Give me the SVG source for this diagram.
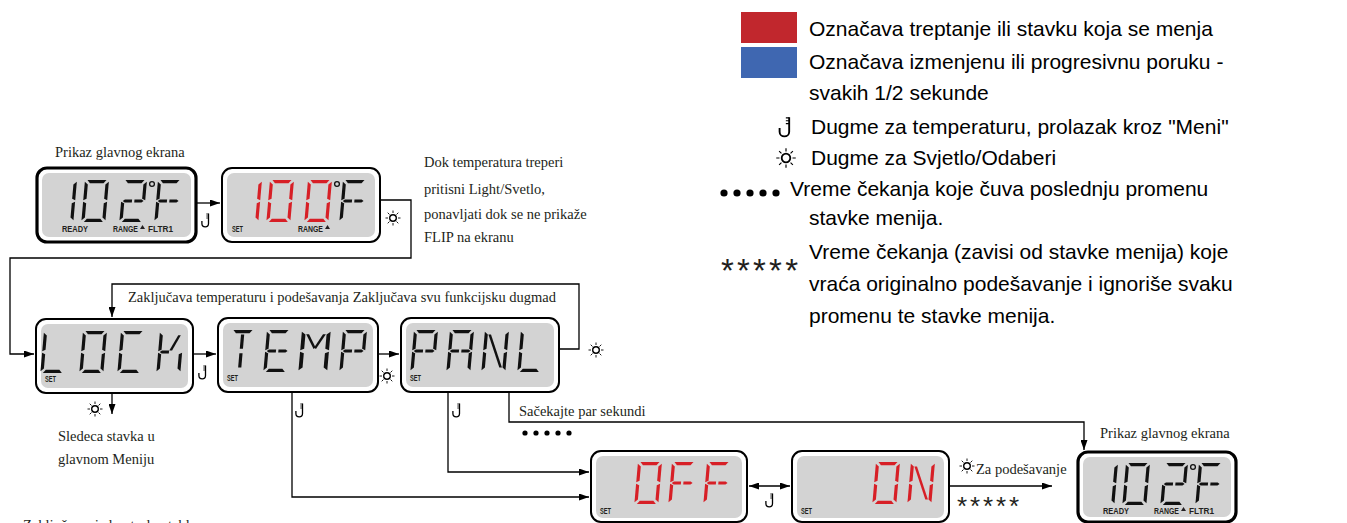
<svg xmlns="http://www.w3.org/2000/svg" width="1347" height="523" viewBox="0 0 1347 523">
<style>
.lbl{font-family:"Liberation Serif","Times New Roman",serif;font-size:14.5px;fill:#231f20}
.leg{font-family:"Liberation Sans",Arial,sans-serif;font-size:21px;fill:#000}
.star{font-family:"Liberation Sans",Arial,sans-serif;fill:#231f20}
.tag{font-family:"Liberation Sans",Arial,sans-serif;font-size:9px;font-weight:bold;fill:#231f20}
.frame{fill:#fff;stroke:#000;stroke-width:2}
.main{stroke-width:3.2}
.screen{fill:#d3d3d3}
.conn{fill:none;stroke:#000;stroke-width:1.3}
.red{fill:#d71f26}
.blk{fill:#111}
</style>
<defs>
<marker id="ah" viewBox="0 0 10 7" refX="10" refY="3.5" markerWidth="10" markerHeight="7" markerUnits="userSpaceOnUse" orient="auto-start-reverse"><path d="M0,0 L10,3.5 L0,7 Z" fill="#000"/></marker>
<path id="sa" d="M2.5,0 H21.5 L18.8,3.2 H5.2 Z"/>
<path id="sd" d="M2.5,42 H21.5 L18.8,38.8 H5.2 Z"/>
<path id="sf" d="M0,1.8 L3.2,4.5 V18.8 L0,20.3 Z"/>
<path id="se" d="M0,21.7 L3.2,23.2 V37.5 L0,40.2 Z"/>
<path id="sb" d="M24,1.8 L20.8,4.5 V18.8 L24,20.3 Z"/>
<path id="sc" d="M24,21.7 L20.8,23.2 V37.5 L24,40.2 Z"/>
<path id="sg1" d="M1.6,21 L3.6,19.4 H10.8 V22.6 H3.6 Z"/>
<path id="sg2" d="M13.2,19.4 H20.4 L22.4,21 L20.4,22.6 H13.2 Z"/>
<path id="stu" d="M10.4,4.5 H13.6 V18.8 H10.4 Z"/>
<path id="stl" d="M10.4,23.2 H13.6 V37.5 H10.4 Z"/>
<path id="sm1" d="M3.8,4.2 L6.2,4.2 L12.6,17.6 L11,19 Z"/>
<path id="sm2" d="M20.2,4.2 L17.8,4.2 L11.4,17.6 L13,19 Z"/>
<path id="sn" d="M3.8,4.5 L6.4,4.5 L20.2,37.5 L17.6,37.5 Z"/>
<path id="sk" d="M11,19.4 L13.8,19.4 L21.2,4.2 L18.6,4.2 Z"/>
<g id="c0"><use href="#sa"/><use href="#sb"/><use href="#sc"/><use href="#sd"/><use href="#se"/><use href="#sf"/></g>
<g id="c1"><use href="#sb"/><use href="#sc"/></g>
<g id="c2"><use href="#sa"/><use href="#sb"/><use href="#sg1"/><use href="#sg2"/><use href="#se"/><use href="#sd"/></g>
<g id="cF"><use href="#sa"/><use href="#sf"/><use href="#se"/><use href="#sg1"/><use href="#sg2"/></g>
<g id="cL"><use href="#sf"/><use href="#se"/><use href="#sd"/></g>
<g id="cC"><use href="#sa"/><use href="#sf"/><use href="#se"/><use href="#sd"/></g>
<g id="cK"><use href="#sf"/><use href="#se"/><use href="#sg1"/><use href="#sk"/><use href="#sc"/></g>
<g id="cT"><use href="#sa"/><use href="#stu"/><use href="#stl"/></g>
<g id="cE"><use href="#sa"/><use href="#sf"/><use href="#se"/><use href="#sd"/><use href="#sg1"/><use href="#sg2"/></g>
<g id="cM"><use href="#sf"/><use href="#se"/><use href="#sb"/><use href="#sc"/><use href="#sm1"/><use href="#sm2"/></g>
<g id="cP"><use href="#sa"/><use href="#sf"/><use href="#se"/><use href="#sb"/><use href="#sg1"/><use href="#sg2"/></g>
<g id="cA"><use href="#sa"/><use href="#sf"/><use href="#se"/><use href="#sb"/><use href="#sc"/><use href="#sg1"/><use href="#sg2"/></g>
<g id="cN"><use href="#sf"/><use href="#se"/><use href="#sb"/><use href="#sc"/><use href="#sn"/></g>
<g id="ti" fill="none" stroke="#000"><path d="M1.5,-7.5 V2.5 A3.3,3.3 0 0 1 -5.1,2.5 V0" stroke-width="1.3"/><path d="M1.5,-7 H-0.8 M1.5,-5 H-0.8 M1.5,-3 H-0.8" stroke-width="0.8"/></g>
<g id="li" fill="none" stroke="#000"><circle r="3.3" stroke-width="1.4"/><path d="M5,0H7.5M-5,0H-7.5M0,5V7.5M0,-5V-7.5M3.5,3.5L5.3,5.3M-3.5,3.5L-5.3,5.3M3.5,-3.5L5.3,-5.3M-3.5,-3.5L-5.3,-5.3" stroke-width="0.9"/></g>
</defs>
<rect width="1347" height="523" fill="#fff"/>

<!-- Legend -->
<g id="legend">
<rect x="741" y="12" width="56" height="31" fill="#c1272d"/>
<rect x="741" y="47" width="56" height="31" fill="#3f67b1"/>
<text class="leg" x="809" y="36">Označava treptanje ili stavku koja se menja</text>
<text class="leg" x="809" y="69">Označava izmenjenu ili progresivnu poruku -</text>
<text class="leg" x="809" y="100">svakih 1/2 sekunde</text>
<use href="#ti" transform="translate(787,128) scale(1.45)"/>
<text class="leg" x="811" y="134">Dugme za temperaturu, prolazak kroz "Meni"</text>
<use href="#li" transform="translate(786,158) scale(1.3)"/>
<text class="leg" x="811" y="165">Dugme za Svjetlo/Odaberi</text>
<g fill="#000"><circle cx="724" cy="193" r="3.6"/><circle cx="737" cy="193" r="3.6"/><circle cx="750" cy="193" r="3.6"/><circle cx="763" cy="193" r="3.6"/><circle cx="776" cy="193" r="3.6"/></g>
<text class="leg" x="790" y="196">Vreme čekanja koje čuva poslednju promenu</text>
<text class="leg" x="809" y="225">stavke menija.</text>
<text class="star" x="721" y="282" textLength="77" lengthAdjust="spacing" style="font-size:33px">*****</text>
<text class="leg" x="809" y="259">Vreme čekanja (zavisi od stavke menija) koje</text>
<text class="leg" x="809" y="291">vraća originalno podešavanje i ignoriše svaku</text>
<text class="leg" x="809" y="323">promenu te stavke menija.</text>
</g>

<!-- Connectors -->
<g id="connectors">
<path class="conn" d="M196,203 H220" marker-end="url(#ah)"/>
<path class="conn" d="M380,200 H411 V258 H10 V354 H34" marker-end="url(#ah)"/>
<path class="conn" d="M559,349 H579 V284 H112 V317" marker-end="url(#ah)"/>
<path class="conn" d="M193,354 H216" marker-end="url(#ah)"/>
<path class="conn" d="M378,354 H399" marker-end="url(#ah)"/>
<path class="conn" d="M112,393 V414" marker-end="url(#ah)"/>
<path class="conn" d="M292,392 V497 H589" marker-end="url(#ah)"/>
<path class="conn" d="M448,392 V472 H589" marker-end="url(#ah)"/>
<path class="conn" d="M509,392 V422 H1084 V450" marker-end="url(#ah)"/>
<path class="conn" d="M749,486 H790" marker-start="url(#ah)" marker-end="url(#ah)"/>
<path class="conn" d="M949,486 H1052" marker-end="url(#ah)"/>
<use href="#ti" transform="translate(207,221)"/>
<use href="#li" transform="translate(393,218)"/>
<use href="#ti" transform="translate(204,373)"/>
<use href="#li" transform="translate(387,376)"/>
<use href="#li" transform="translate(596,350)"/>
<use href="#li" transform="translate(95,409)"/>
<use href="#ti" transform="translate(301,411)"/>
<use href="#ti" transform="translate(458,411)"/>
<use href="#ti" transform="translate(771,501)"/>
<use href="#li" transform="translate(967,466)"/>
<g fill="#000"><circle cx="525" cy="433" r="2.6"/><circle cx="536" cy="433" r="2.6"/><circle cx="547" cy="433" r="2.6"/><circle cx="558" cy="433" r="2.6"/><circle cx="569" cy="433" r="2.6"/></g>
</g>

<!-- Labels -->
<g id="labels">
<text class="lbl" x="55" y="157">Prikaz glavnog ekrana</text>
<text class="lbl" x="424" y="167">Dok temperatura treperi</text>
<text class="lbl" x="424" y="194">pritisni Light/Svetlo,</text>
<text class="lbl" x="424" y="219">ponavljati dok se ne prikaže</text>
<text class="lbl" x="424" y="242">FLIP na ekranu</text>
<text class="lbl" x="128" y="302">Zaključava temperaturu i podešavanja Zaključava svu funkcijsku dugmad</text>
<text class="lbl" x="58" y="441">Sledeca stavka u</text>
<text class="lbl" x="58" y="464">glavnom Meniju</text>
<text class="lbl" x="519" y="416">Sačekajte par sekundi</text>
<text class="lbl" x="976" y="474">Za podešavanje</text>
<text class="star" x="957" y="515" textLength="62" lengthAdjust="spacing" style="font-size:26px">*****</text>
<text class="lbl" x="1100" y="438">Prikaz glavnog ekrana</text>
<text class="lbl" x="23" y="530">Zaključavanje kontrolne table</text>
</g>

<!-- LCD 1: main display -->
<g id="lcd-main-1">
<rect class="frame main" x="37" y="168" width="159" height="74" rx="10"/>
<rect class="screen" x="42" y="173" width="149" height="64" rx="7"/>
<g class="blk">
<use href="#c1" transform="translate(53,180) skewX(-5)"/>
<use href="#c0" transform="translate(85,180) skewX(-5)"/>
<use href="#c2" transform="translate(123,180) skewX(-5)"/>
<use href="#cF" transform="translate(158,180) skewX(-5)"/>
</g>
<circle cx="152" cy="184" r="2.4" fill="none" stroke="#111" stroke-width="1.3"/>
<text class="tag" x="62" y="232" textLength="26" lengthAdjust="spacingAndGlyphs">READY</text>
<text class="tag" x="113" y="232" textLength="25" lengthAdjust="spacingAndGlyphs">RANGE</text>
<path d="M140,229 L142.5,225 L145,229 Z" fill="#231f20"/>
<text class="tag" x="148" y="232" textLength="25" lengthAdjust="spacingAndGlyphs">FLTR1</text>
</g>

<!-- LCD 2: flashing set temp -->
<g id="lcd-set-temp">
<rect class="frame" x="222" y="168" width="158" height="74" rx="10"/>
<rect class="screen" x="227" y="173" width="148" height="64" rx="7"/>
<g class="red">
<use href="#c1" transform="translate(238,180) skewX(-5)"/>
<use href="#c0" transform="translate(270,180) skewX(-5)"/>
<use href="#c0" transform="translate(308,180) skewX(-5)"/>
</g>
<use href="#cF" class="blk" transform="translate(343,180) skewX(-5)"/>
<circle cx="337" cy="184" r="2.4" fill="none" stroke="#111" stroke-width="1.3"/>
<text class="tag" x="232" y="232" textLength="11" lengthAdjust="spacingAndGlyphs">SET</text>
<text class="tag" x="298" y="232" textLength="25" lengthAdjust="spacingAndGlyphs">RANGE</text>
<path d="M325,229 L327.5,225 L330,229 Z" fill="#231f20"/>
</g>

<!-- LCD 3: LOCK -->
<g id="lcd-lock">
<rect class="frame" x="36" y="319" width="157" height="74" rx="10"/>
<rect class="screen" x="41" y="324" width="147" height="64" rx="7"/>
<g class="blk">
<use href="#cL" transform="translate(44,331) skewX(-5)"/>
<use href="#c0" transform="translate(83,331) skewX(-5)"/>
<use href="#cC" transform="translate(121,331) skewX(-5)"/>
<use href="#cK" transform="translate(160,331) skewX(-5)"/>
</g>
<text class="tag" x="45" y="382" textLength="11" lengthAdjust="spacingAndGlyphs">SET</text>
</g>

<!-- LCD 4: TEMP -->
<g id="lcd-temp">
<rect class="frame" x="218" y="318" width="160" height="74" rx="10"/>
<rect class="screen" x="223" y="323" width="150" height="64" rx="7"/>
<g class="blk">
<use href="#cT" transform="translate(231,330) skewX(-5)"/>
<use href="#cE" transform="translate(267,330) skewX(-5)"/>
<use href="#cM" transform="translate(302,330) skewX(-5) scale(1.2,1)"/>
<use href="#cP" transform="translate(343,330) skewX(-5)"/>
</g>
<text class="tag" x="227" y="381" textLength="11" lengthAdjust="spacingAndGlyphs">SET</text>
</g>

<!-- LCD 5: PANL -->
<g id="lcd-panl">
<rect class="frame" x="401" y="318" width="158" height="74" rx="10"/>
<rect class="screen" x="406" y="323" width="148" height="64" rx="7"/>
<g class="blk">
<use href="#cP" transform="translate(414,330) skewX(-5)"/>
<use href="#cA" transform="translate(450,330) skewX(-5)"/>
<use href="#cN" transform="translate(485,330) skewX(-5)"/>
<use href="#cL" transform="translate(521,330) skewX(-5)"/>
</g>
<text class="tag" x="410" y="381" textLength="11" lengthAdjust="spacingAndGlyphs">SET</text>
</g>

<!-- LCD 6: OFF -->
<g id="lcd-off">
<rect class="frame" x="591" y="451" width="156" height="71" rx="10"/>
<rect class="screen" x="596" y="456" width="146" height="62" rx="7"/>
<g class="red">
<use href="#c0" transform="translate(638,462) skewX(-5)"/>
<use href="#cF" transform="translate(672,462) skewX(-5)"/>
<use href="#cF" transform="translate(707,462) skewX(-5)"/>
</g>
<text class="tag" x="600" y="514" textLength="11" lengthAdjust="spacingAndGlyphs">SET</text>
</g>

<!-- LCD 7: ON -->
<g id="lcd-on">
<rect class="frame" x="792" y="451" width="157" height="71" rx="10"/>
<rect class="screen" x="797" y="456" width="147" height="62" rx="7"/>
<g class="red">
<use href="#c0" transform="translate(876,462) skewX(-5)"/>
<use href="#cN" transform="translate(911,462) skewX(-5)"/>
</g>
<text class="tag" x="801" y="514" textLength="11" lengthAdjust="spacingAndGlyphs">SET</text>
</g>

<!-- LCD 8: main display -->
<g id="lcd-main-2">
<rect class="frame main" x="1078" y="452" width="158" height="70" rx="10"/>
<rect class="screen" x="1083" y="457" width="148" height="60" rx="7"/>
<g class="blk">
<use href="#c1" transform="translate(1094,463) skewX(-5)"/>
<use href="#c0" transform="translate(1126,463) skewX(-5)"/>
<use href="#c2" transform="translate(1164,463) skewX(-5)"/>
<use href="#cF" transform="translate(1199,463) skewX(-5)"/>
</g>
<circle cx="1193" cy="467" r="2.4" fill="none" stroke="#111" stroke-width="1.3"/>
<text class="tag" x="1103" y="514" textLength="26" lengthAdjust="spacingAndGlyphs">READY</text>
<text class="tag" x="1154" y="514" textLength="25" lengthAdjust="spacingAndGlyphs">RANGE</text>
<path d="M1181,511 L1183.5,507 L1186,511 Z" fill="#231f20"/>
<text class="tag" x="1189" y="514" textLength="25" lengthAdjust="spacingAndGlyphs">FLTR1</text>
</g>
</svg>
